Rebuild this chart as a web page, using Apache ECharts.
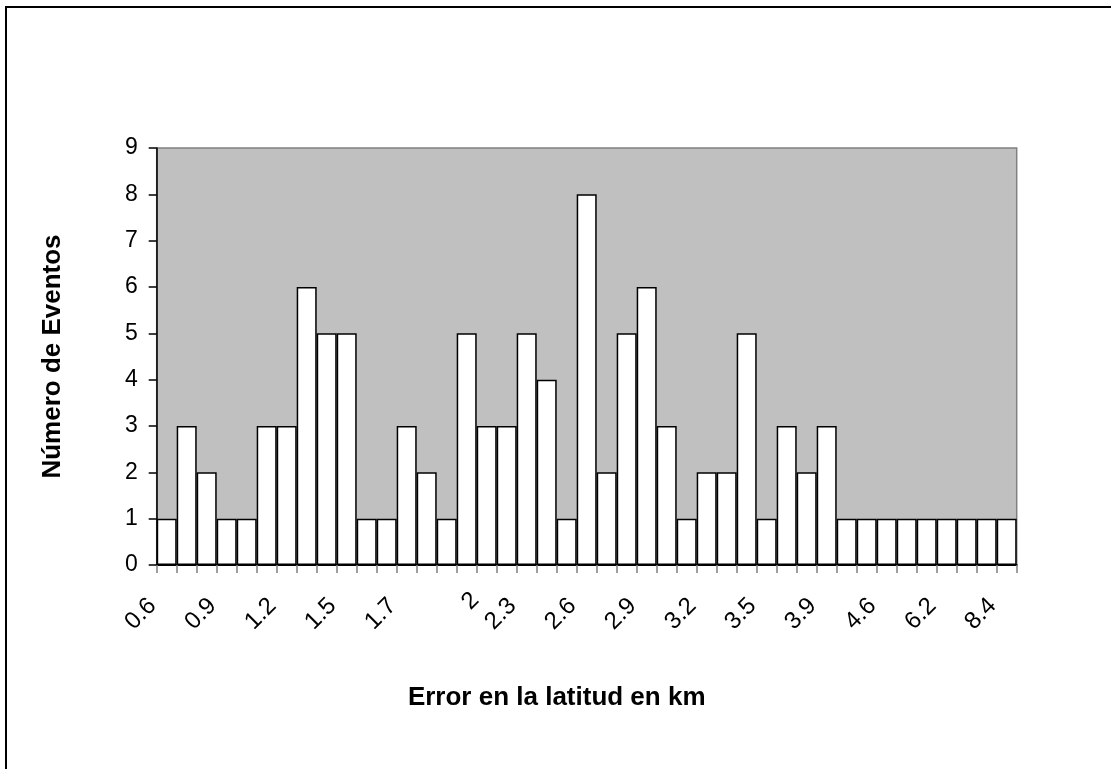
<!DOCTYPE html>
<html>
<head>
<meta charset="utf-8">
<title>Número de Eventos</title>
<script src="https://cdn.jsdelivr.net/npm/echarts@6/dist/echarts.min.js"></script>
<style>
  html, body { margin: 0; padding: 0; background: #ffffff; }
  #chart { width: 1111px; height: 769px; }
</style>
</head>
<body>
<div id="chart"></div>
<script>
// Error en la latitud (km) — one category per distinct error value
const categories = [
  '0.6', '0.7', '0.8', '0.9', '1', '1.1', '1.2', '1.3', '1.4', '1.5',
  '1.55', '1.6', '1.7', '1.8', '1.9', '2', '2.1', '2.2', '2.3', '2.4',
  '2.5', '2.6', '2.7', '2.8', '2.9', '3', '3.1', '3.2', '3.3', '3.4',
  '3.5', '3.6', '3.8', '3.9', '4.1', '4.3', '4.6', '5.1', '5.6', '6.2',
  '6.9', '7.6', '8.4'
];

// Número de eventos for each error value
const eventCounts = [
  1, 3, 2, 1, 1, 3, 3, 6, 5, 5,
  1, 1, 3, 2, 1, 5, 3, 3, 5, 4,
  1, 8, 2, 5, 6, 3, 1, 2, 2, 5,
  1, 3, 2, 3, 1, 1, 1, 1, 1, 1,
  1, 1, 1
];

// y-axis tick values
const yTicks = [0, 1, 2, 3, 4, 5, 6, 7, 8, 9];

const FONT = '"Liberation Sans", Arial, Helvetica, sans-serif';

// Category items; the one-character label sits a little further right and lower
const xAxisData = categories.map(function (c) {
  if (c.length === 1) {
    return { value: c, textStyle: { padding: [0, 0, 0, 0], verticalAlign: 'top' } };
  }
  return c;
});

const chart = echarts.init(document.getElementById('chart'), null, { renderer: 'canvas' });

chart.setOption({
  animation: false,
  backgroundColor: '#ffffff',
  textStyle: { fontFamily: FONT },
  graphic: [
    {
      // outer chart frame
      type: 'rect',
      silent: true,
      shape: { x: 6, y: 7, width: 1200, height: 900 },
      style: { fill: 'none', stroke: '#000000', lineWidth: 2 }
    }
  ],
  grid: {
    show: true,
    left: 156.7,
    top: 148,
    right: 94.3,
    bottom: 204,
    backgroundColor: '#c0c0c0',
    borderColor: '#808080',
    borderWidth: 1.5
  },
  xAxis: {
    type: 'category',
    data: xAxisData,
    boundaryGap: true,
    name: 'Error en la latitud en km',
    nameLocation: 'middle',
    nameGap: 120,
    nameTextStyle: {
      fontFamily: FONT,
      fontSize: 26,
      fontWeight: 'bold',
      color: '#000000',
      padding: [0, 60, 0, 0]
    },
    axisLine: { show: true, lineStyle: { color: '#000000', width: 2 } },
    axisTick: {
      show: true,
      interval: 0,
      alignWithLabel: false,
      length: 8,
      lineStyle: { color: '#808080', width: 1.5 }
    },
    axisLabel: {
      interval: 2,
      rotate: 45,
      margin: 23,
      padding: [0, 20, 0, 0],
      fontFamily: FONT,
      fontSize: 24,
      color: '#000000'
    },
    splitLine: { show: false }
  },
  yAxis: {
    type: 'value',
    min: yTicks[0],
    max: yTicks[yTicks.length - 1],
    interval: 1,
    name: 'Número de Eventos',
    nameLocation: 'middle',
    nameGap: 91,
    nameRotate: 90,
    nameTextStyle: {
      fontFamily: FONT,
      fontSize: 26,
      fontWeight: 'bold',
      color: '#000000'
    },
    axisLine: { show: true, lineStyle: { color: '#000000', width: 1.5 } },
    axisTick: {
      show: true,
      length: 8,
      lineStyle: { color: '#000000', width: 1.5 }
    },
    axisLabel: {
      margin: 19,
      fontFamily: FONT,
      fontSize: 23,
      color: '#000000'
    },
    splitLine: { show: false }
  },
  series: [
    {
      type: 'bar',
      data: eventCounts,
      barCategoryGap: '0%',
      itemStyle: {
        color: '#ffffff',
        borderColor: '#000000',
        borderWidth: 1.5
      },
      emphasis: { disabled: true }
    }
  ]
});
</script>
</body>
</html>
